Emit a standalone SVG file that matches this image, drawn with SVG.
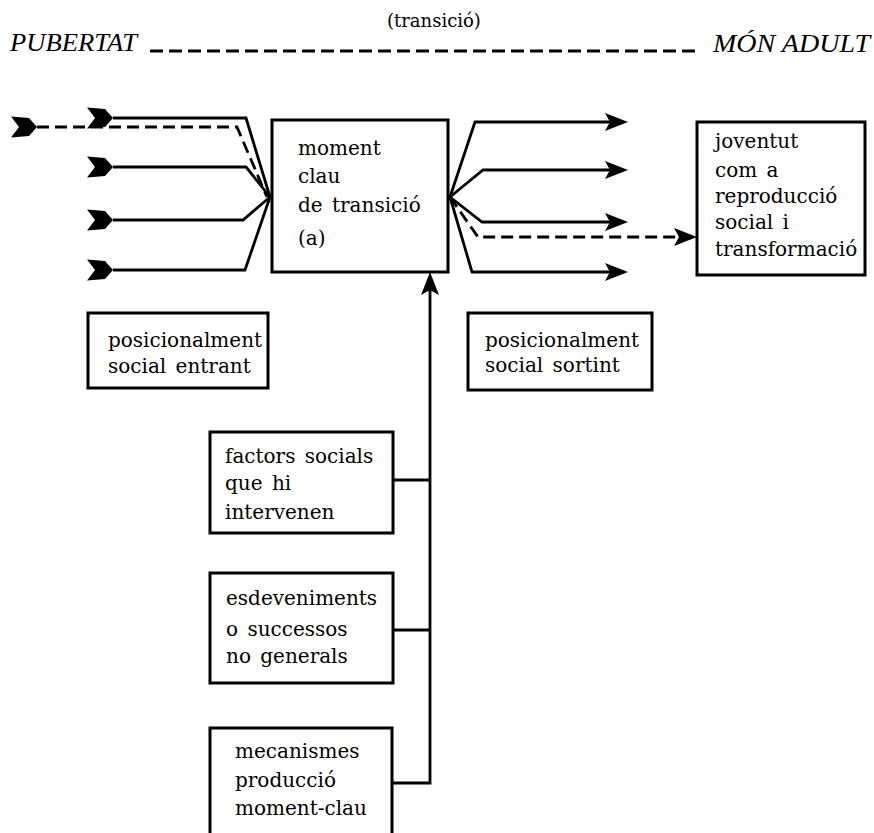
<svg xmlns="http://www.w3.org/2000/svg" width="874" height="833" viewBox="0 0 874 833">
<defs>
<style>
.box{fill:#fff;stroke:#000;stroke-width:3}
.t{font-family:"DejaVu Serif","Liberation Serif",serif;font-size:20px;fill:#000;word-spacing:3px}
.hd{font-family:"Liberation Serif",serif;font-style:italic;font-size:26px;fill:#000}
.ln{fill:none;stroke:#000;stroke-width:2.8;stroke-linejoin:miter}
.ds{fill:none;stroke:#000;stroke-width:2.8;stroke-dasharray:12 6}
</style>
<marker id="head" markerUnits="userSpaceOnUse" markerWidth="28" markerHeight="22" viewBox="0 0 28 22" refX="14" refY="11" orient="auto">
<path d="M1,2 L24,11 L1,20 L6,11 Z" fill="#000"/>
</marker>
<marker id="feather" markerUnits="userSpaceOnUse" markerWidth="30" markerHeight="24" viewBox="0 0 30 24" refX="27" refY="12" orient="auto">
<path d="M1,1.5 L19,3 L27,12 L19,21 L1,22.5 L9,12 Z" fill="#000"/>
</marker>
</defs>

<g id="header">
<text class="t" x="387" y="27" style="font-size:18px">(transició)</text>
<text class="hd" x="10" y="51" textLength="127" lengthAdjust="spacingAndGlyphs">PUBERTAT</text>
<line x1="150" y1="51" x2="698" y2="51" stroke="#000" stroke-width="2.8" stroke-dasharray="13 6"/>
<text class="hd" x="713" y="52" textLength="157" lengthAdjust="spacingAndGlyphs">MÓN ADULT</text>
</g>

<g id="connectors">
<polyline class="ln" points="113,118 246,118 270,197" marker-start="url(#feather)"/>
<polyline class="ds" points="37,127 237,127 267,197" marker-start="url(#feather)"/>
<polyline class="ln" points="113,167 246,167 270,197" marker-start="url(#feather)"/>
<polyline class="ln" points="113,220 243,220 270,197" marker-start="url(#feather)"/>
<polyline class="ln" points="113,270 245,270 270,197" marker-start="url(#feather)"/>
<polyline class="ln" points="450,197 475,122 618,122" marker-end="url(#head)"/>
<polyline class="ln" points="450,197 483,170 618,170" marker-end="url(#head)"/>
<polyline class="ln" points="450,197 482,222 618,222" marker-end="url(#head)"/>
<polyline class="ds" points="450,197 478,237 687,237" marker-end="url(#head)"/>
<polyline class="ln" points="450,197 472,272 618,272" marker-end="url(#head)"/>
<polyline class="ln" points="392,783 430,783 430,282" marker-end="url(#head)"/>
<line class="ln" x1="393" y1="480" x2="430" y2="480"/>
<line class="ln" x1="393" y1="630" x2="430" y2="630"/>
</g>

<g id="moment-clau">
<rect class="box" x="272" y="120" width="176" height="152"/>
<text class="t" x="298" y="155">moment</text>
<text class="t" x="298" y="183">clau</text>
<text class="t" x="298" y="212">de transició</text>
<text class="t" x="298" y="245">(a)</text>
</g>

<g id="joventut">
<rect class="box" x="697" y="122" width="168" height="153"/>
<text class="t" x="715" y="148">joventut</text>
<text class="t" x="715" y="177">com a</text>
<text class="t" x="715" y="203">reproducció</text>
<text class="t" x="715" y="229">social i</text>
<text class="t" x="715" y="256">transformació</text>
</g>

<g id="entrant">
<rect class="box" x="88" y="313" width="180" height="75"/>
<text class="t" x="108" y="347">posicionalment</text>
<text class="t" x="108" y="373">social entrant</text>
</g>

<g id="sortint">
<rect class="box" x="468" y="313" width="184" height="77"/>
<text class="t" x="485" y="347">posicionalment</text>
<text class="t" x="485" y="372">social sortint</text>
</g>

<g id="factors">
<rect class="box" x="210" y="432" width="183" height="101"/>
<text class="t" x="225" y="463">factors socials</text>
<text class="t" x="225" y="490">que hi</text>
<text class="t" x="225" y="519">intervenen</text>
</g>

<g id="esdeveniments">
<rect class="box" x="210" y="573" width="183" height="110"/>
<text class="t" x="226" y="605">esdeveniments</text>
<text class="t" x="226" y="636">o successos</text>
<text class="t" x="226" y="663">no generals</text>
</g>

<g id="mecanismes">
<rect class="box" x="210" y="728" width="182" height="120"/>
<text class="t" x="235" y="758">mecanismes</text>
<text class="t" x="235" y="787">producció</text>
<text class="t" x="235" y="815">moment-clau</text>
</g>
</svg>
